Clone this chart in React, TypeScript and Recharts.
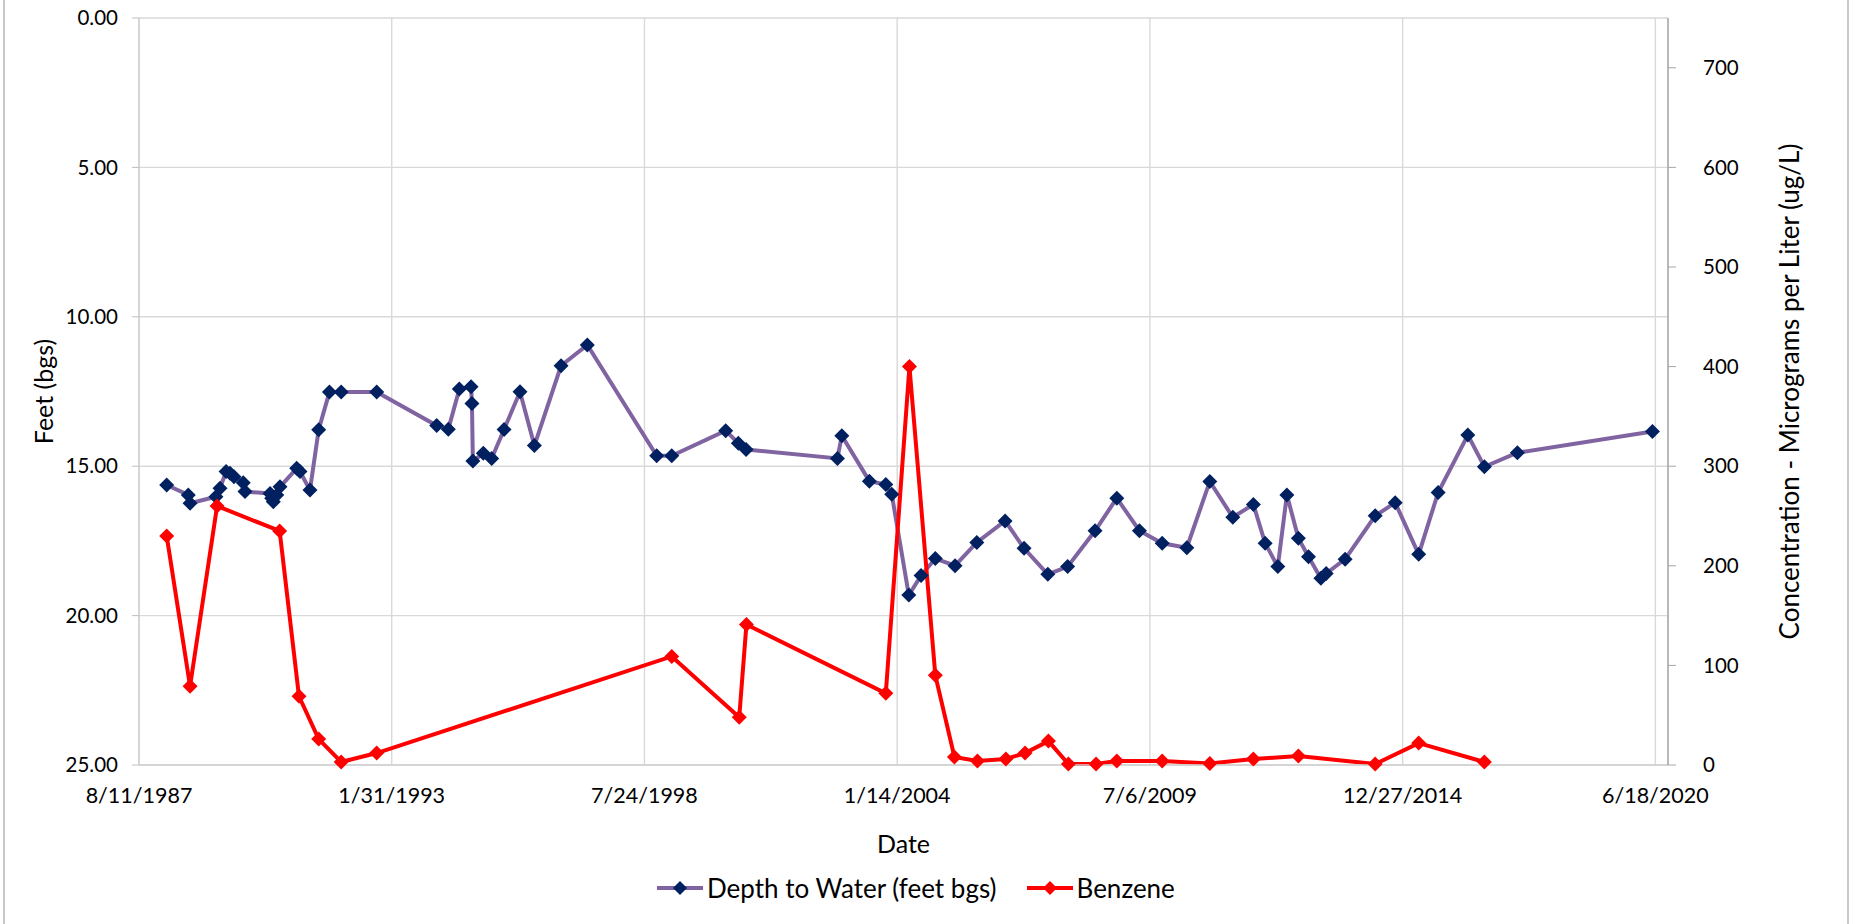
import React from 'react';
import { LineChart, Line, XAxis, YAxis, CartesianGrid, Legend } from 'recharts';

// sampling dates and readings
const depthDates = [
  '1988-03-17', '1988-09-04', '1988-09-18', '1989-04-11', '1989-05-13', '1989-06-30', '1989-07-31',
  '1989-09-01', '1989-11-13', '1989-11-27', '1990-06-13', '1990-06-26', '1990-07-09', '1990-08-05',
  '1990-08-31', '1991-01-10', '1991-02-05', '1991-04-25', '1991-07-03', '1991-09-26', '1991-12-28',
  '1992-10-04', '1994-01-22', '1994-04-24', '1994-07-20', '1994-10-21', '1994-10-28', '1994-11-04',
  '1995-01-26', '1995-04-02', '1995-07-09', '1995-11-12', '1996-03-05', '1996-10-02', '1997-04-28',
  '1998-10-29', '1999-02-25', '2000-04-27', '2000-08-05', '2000-10-05', '2002-09-28', '2002-11-02',
  '2003-06-08', '2003-10-16', '2003-12-02', '2004-04-15', '2004-07-21', '2004-11-11', '2005-04-16',
  '2005-10-05', '2006-05-17', '2006-10-14', '2007-04-20', '2007-09-24', '2008-04-28', '2008-10-17',
  '2009-04-14', '2009-10-11', '2010-04-24', '2010-10-23', '2011-04-23', '2011-10-03', '2012-01-04',
  '2012-04-13', '2012-06-24', '2012-09-23', '2012-12-12', '2013-03-20', '2013-05-01', '2013-09-28',
  '2014-05-24', '2014-10-29', '2015-05-03', '2015-10-04', '2016-05-26', '2016-10-04', '2017-06-22',
  '2020-05-26',
];
const depthFeet = [
  15.63, 15.96, 16.24, 16.02, 15.74, 15.18, 15.24,
  15.35, 15.55, 15.85, 15.91, 16.07, 16.19, 15.96,
  15.69, 15.07, 15.18, 15.8, 13.78, 12.52, 12.52,
  12.52, 13.64, 13.76, 12.42, 12.34, 12.9, 14.83,
  14.57, 14.74, 13.77, 12.51, 14.31, 11.64, 10.94,
  14.65, 14.65, 13.81, 14.23, 14.44, 14.74, 13.98,
  15.5, 15.61, 15.94, 19.31, 18.66, 18.09, 18.33,
  17.55, 16.83, 17.75, 18.62, 18.36, 17.16, 16.07,
  17.16, 17.58, 17.73, 15.51, 16.71, 16.28, 17.58,
  18.36, 15.96, 17.41, 18.03, 18.75, 18.59, 18.11,
  16.66, 16.22, 17.95, 15.88, 13.96, 15.02, 14.55,
  13.84,
];

const benzeneDates = [
  '1988-03-17', '1988-09-18', '1989-04-20', '1990-08-28', '1991-01-28', '1991-07-03', '1991-12-28',
  '1992-10-04', '1999-02-25', '2000-08-12', '2000-10-08', '2003-10-16', '2004-04-20', '2004-11-11',
  '2005-04-11', '2005-10-10', '2006-05-23', '2006-10-22', '2007-04-25', '2007-09-30', '2008-05-06',
  '2008-10-17', '2009-10-11', '2010-10-23', '2011-10-03', '2012-09-23', '2014-05-24', '2015-05-03',
  '2016-10-04',
];
const benzeneUgL = [
  230, 79, 260, 235, 69, 26, 3,
  12, 109, 48, 141, 72, 400, 90,
  8, 4, 6, 12, 24, 1, 1,
  4, 4, 1.5, 6, 9, 1, 22,
  3,
];

const dateTicks = ['1987-08-11', '1993-01-31', '1998-07-24', '2004-01-14', '2009-07-06', '2014-12-27', '2020-06-18'];
const feetTicks = [0, 5, 10, 15, 20, 25];
const concTicks = [0, 100, 200, 300, 400, 500, 600, 700];

// excel style day serials
const EPOCH = Date.UTC(1899, 11, 30);
const toSerial = (iso: string) => {
  const [y, m, d] = iso.split('-').map(Number);
  return Math.round((Date.UTC(y, m - 1, d) - EPOCH) / 86400000);
};
const fromSerial = (s: number) => {
  const dt = new Date(EPOCH + s * 86400000);
  return `${dt.getUTCMonth() + 1}/${dt.getUTCDate()}/${dt.getUTCFullYear()}`;
};

const depthData = depthDates.map((d, i) => ({ x: toSerial(d), depth: depthFeet[i] }));
const benzeneData = benzeneDates.map((d, i) => ({ x: toSerial(d), benzene: benzeneUgL[i] }));

const diamondDot = (color: string, r = 7.5) => (props: any) => {
  const { cx, cy, index } = props;
  if (cx == null || cy == null) return <g key={`dot-${index}`} />;
  return (
    <path
      key={`dot-${index}`}
      d={`M${cx} ${cy - r}L${cx + r} ${cy}L${cx} ${cy + r}L${cx - r} ${cy}Z`}
      fill={color}
    />
  );
};

const legendItems = [
  { label: 'Depth to Water (feet bgs)', line: '#8064A2', marker: '#002060' },
  { label: 'Benzene', line: '#FF0000', marker: '#FF0000' },
];

const renderLegend = () => (
  <div style={{ display: 'flex', alignItems: 'center', fontSize: 26, color: '#000', whiteSpace: 'nowrap' }}>
    {legendItems.map((item, i) => (
      <div key={item.label} style={{ display: 'flex', alignItems: 'center', marginLeft: i === 0 ? 0 : 30 }}>
        <svg width={46} height={20}>
          <line x1={0} y1={10} x2={46} y2={10} stroke={item.line} strokeWidth={4} />
          <path d="M23 3L30 10L23 17L16 10Z" fill={item.marker} />
        </svg>
        <span style={{ marginLeft: 4 }}>{item.label}</span>
      </div>
    ))}
  </div>
);

export default function App() {
  return (
    <div
      style={{
        position: 'absolute',
        left: 0,
        top: 0,
        width: 1851,
        height: 924,
        background: '#fff',
        fontFamily: 'Lato, "Open Sans", sans-serif',
      }}
    >
      <div
        style={{
          position: 'absolute',
          left: 3,
          top: -4,
          width: 1842,
          height: 932,
          borderLeft: '2px solid #c8c8c8',
          borderRight: '2px solid #c8c8c8',
        }}
      />
      <LineChart width={1851} height={924} margin={{ top: 18, right: 0, bottom: 119, left: 0 }}>
        <CartesianGrid yAxisId="left" stroke="#d9d9d9" strokeWidth={1.4} />
        <XAxis
          dataKey="x"
          type="number"
          domain={[32000, 44100]}
          allowDataOverflow
          ticks={dateTicks.map(toSerial)}
          interval={0}
          tickFormatter={fromSerial}
          height={40}
          tickLine={false}
          tickSize={0}
          tickMargin={23}
          axisLine={{ stroke: '#d0d0d0', strokeWidth: 1.4 }}
          tick={{ fill: '#000', fontSize: 21.5 }}
          label={{ value: 'Date', position: 'bottom', offset: 30, fill: '#000', fontSize: 25 }}
        />
        <YAxis
          yAxisId="left"
          domain={[0, 25]}
          reversed
          ticks={feetTicks}
          interval={0}
          tickFormatter={(v: number) => v.toFixed(2)}
          width={139}
          tickSize={7}
          tickMargin={14}
          axisLine={{ stroke: '#d0d0d0', strokeWidth: 1.4 }}
          tickLine={{ stroke: '#bfbfbf' }}
          tick={{ fill: '#000', fontSize: 20.5 }}
          label={{
            value: 'Feet (bgs)',
            angle: -90,
            position: 'insideLeft',
            offset: 44,
            fill: '#000',
            fontSize: 25,
            style: { textAnchor: 'middle' },
          }}
        />
        <YAxis
          yAxisId="right"
          orientation="right"
          domain={[0, 750]}
          ticks={concTicks}
          interval={0}
          width={183}
          tickSize={8}
          tickMargin={27}
          axisLine={{ stroke: '#a6a6a6', strokeWidth: 1.4 }}
          tickLine={{ stroke: '#a6a6a6' }}
          tick={{ fill: '#000', fontSize: 20.5 }}
          label={{
            value: 'Concentration - Micrograms per Liter (ug/L)',
            angle: -90,
            position: 'insideRight',
            offset: 61,
            fill: '#000',
            fontSize: 26,
            style: { textAnchor: 'middle' },
          }}
        />
        <Legend
          content={renderLegend}
          layout="horizontal"
          verticalAlign="middle"
          align="center"
          wrapperStyle={{ position: 'absolute', left: 657, top: 872, width: 'auto' }}
        />
        <Line
          data={depthData}
          yAxisId="left"
          dataKey="depth"
          type="linear"
          stroke="#8064A2"
          strokeWidth={4}
          dot={diamondDot('#002060')}
          activeDot={false}
          isAnimationActive={false}
        />
        <Line
          data={benzeneData}
          yAxisId="right"
          dataKey="benzene"
          type="linear"
          stroke="#FF0000"
          strokeWidth={4}
          dot={diamondDot('#FF0000')}
          activeDot={false}
          isAnimationActive={false}
        />
      </LineChart>
    </div>
  );
}
